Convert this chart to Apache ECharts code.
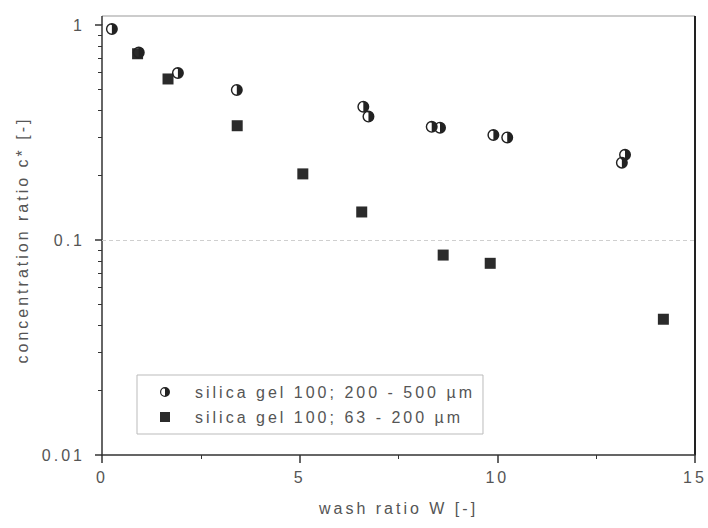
<!DOCTYPE html>
<html>
<head>
<meta charset="utf-8">
<style>
  html, body { margin: 0; padding: 0; background: #fff; }
  #chart { width: 708px; height: 528px; }
  #chart text { letter-spacing: 3px; }
</style>
<script src="https://cdn.jsdelivr.net/npm/echarts@6/dist/echarts.min.js"></script>
</head>
<body>
<div id="chart"></div>
<script>
// ---- data ----
const nameA = 'silica gel 100; 200 - 500 µm';
const nameB = 'silica gel 100; 63 - 200 µm';
const xA = [0.25, 0.93, 1.92, 3.41, 6.61, 6.74, 8.34, 8.55, 9.90, 10.25, 13.23, 13.15];
const yA = [0.958, 0.745, 0.598, 0.499, 0.417, 0.375, 0.336, 0.333, 0.308, 0.300, 0.249, 0.229];
const xB = [0.90, 1.67, 3.42, 5.08, 6.57, 8.63, 9.82, 14.2];
const yB = [0.735, 0.561, 0.340, 0.203, 0.135, 0.0851, 0.0779, 0.0428];
const yMinorTicks = [0.02, 0.03, 0.04, 0.05, 0.06, 0.07, 0.08, 0.09, 0.2, 0.3, 0.4, 0.5, 0.6, 0.7, 0.8, 0.9];
const xTickLabels = [0, 5, 10, 15];
const yTickLabels = [0.01, 0.1, 1];

const FONT = '"Liberation Sans", Arial, sans-serif';
const TXT = '#555';
const AX = '#333';
const halfCircle = 'path://M50,0 A50,50 0 0 1 50,100 Z M50,0 A50,50 0 0 0 50,100 L50,88 A38,38 0 0 1 50,12 Z';

const chart = echarts.init(document.getElementById('chart'), null, { renderer: 'svg' });

const option = {
  animation: false,
  backgroundColor: '#fff',
  grid: { left: 102, right: 13, top: 25, bottom: 73 },
  xAxis: {
    type: 'value', min: 0, max: 15, interval: 5,
    name: 'wash ratio W [-]', nameLocation: 'middle', nameGap: 45,
    nameTextStyle: { fontFamily: FONT, fontSize: 16, color: TXT },
    axisLine: { onZero: false, lineStyle: { color: AX, width: 1.5 } },
    axisTick: { show: true, length: 8, lineStyle: { color: AX, width: 1.5 } },
    minorTick: { show: true, splitNumber: 2, length: 4, lineStyle: { color: AX, width: 1 } },
    splitLine: { show: false },
    axisLabel: {
      fontFamily: FONT, fontSize: 16, color: TXT, margin: 14,
      formatter: v => (xTickLabels.indexOf(v) >= 0 ? String(v) : '')
    }
  },
  yAxis: [
    {
      type: 'log', logBase: 10, min: 0.01, max: 1,
      name: 'concentration ratio c* [-]', nameLocation: 'middle', nameGap: 72,
      nameTextStyle: { fontFamily: FONT, fontSize: 16, color: TXT },
      axisLine: { show: true, onZero: false, lineStyle: { color: AX, width: 1.5 } },
      axisTick: { show: true, length: 7, lineStyle: { color: AX, width: 1.5 } },
      splitLine: { show: false },
      axisLabel: {
        fontFamily: FONT, fontSize: 16, color: TXT, margin: 17,
        formatter: v => {
          const m = yTickLabels.find(t => Math.abs(t - v) / t < 1e-6);
          return m === undefined ? '' : String(m);
        }
      }
    },
    {
      type: 'value', min: -2, max: 0, position: 'left',
      axisLine: { show: false, onZero: false },
      axisLabel: { show: false },
      splitLine: { show: false },
      axisTick: {
        show: true, length: 4, lineStyle: { color: AX, width: 1 },
        customValues: yMinorTicks.map(v => Math.log10(v))
      }
    }
  ],
  legend: {
    orient: 'vertical', left: 137, top: 375,
    padding: [9, 92, 9, 23],
    itemGap: 9, itemWidth: 10, itemHeight: 10,
    borderColor: '#bbb', borderWidth: 1,
    textStyle: { fontFamily: FONT, fontSize: 16, color: TXT, padding: [0, 0, 0, 20] },
    data: [
      { name: nameA, icon: halfCircle },
      { name: nameB, icon: 'rect' }
    ]
  },
  series: [
    {
      name: nameA, type: 'scatter', symbol: halfCircle, symbolSize: 12,
      itemStyle: { color: '#222', opacity: 1 },
      data: xA.map((x, i) => [x, yA[i]]),
      markLine: {
        silent: true, symbol: ['none', 'none'], label: { show: false },
        lineStyle: { color: '#cfcfcf', type: [4, 3], width: 1 },
        data: [{ yAxis: 0.1 }]
      },
      z: 3
    },
    {
      name: nameB, type: 'scatter', symbol: 'rect', symbolSize: 11,
      itemStyle: { color: '#2b2b2b', opacity: 1 },
      data: xB.map((x, i) => [x, yB[i]]),
      z: 2
    }
  ]
};
chart.setOption(option);

// frame: top border sits a little above the value 1, right border closes the box
const p0 = chart.convertToPixel({ xAxisIndex: 0, yAxisIndex: 0 }, [0, 0.01]);
const p1 = chart.convertToPixel({ xAxisIndex: 0, yAxisIndex: 0 }, [15, 1]);
const topY = p1[1] - 9;
chart.setOption({
  graphic: [
    { type: 'line', shape: { x1: p0[0], y1: topY, x2: p1[0], y2: topY }, style: { stroke: '#999', lineWidth: 1 }, silent: true },
    { type: 'line', shape: { x1: p0[0], y1: topY, x2: p0[0], y2: p1[1] }, style: { stroke: AX, lineWidth: 1.5 }, silent: true },
    { type: 'line', shape: { x1: p1[0], y1: topY, x2: p1[0], y2: p0[1] }, style: { stroke: '#222', lineWidth: 2 }, silent: true }
  ]
});
</script>
</body>
</html>
